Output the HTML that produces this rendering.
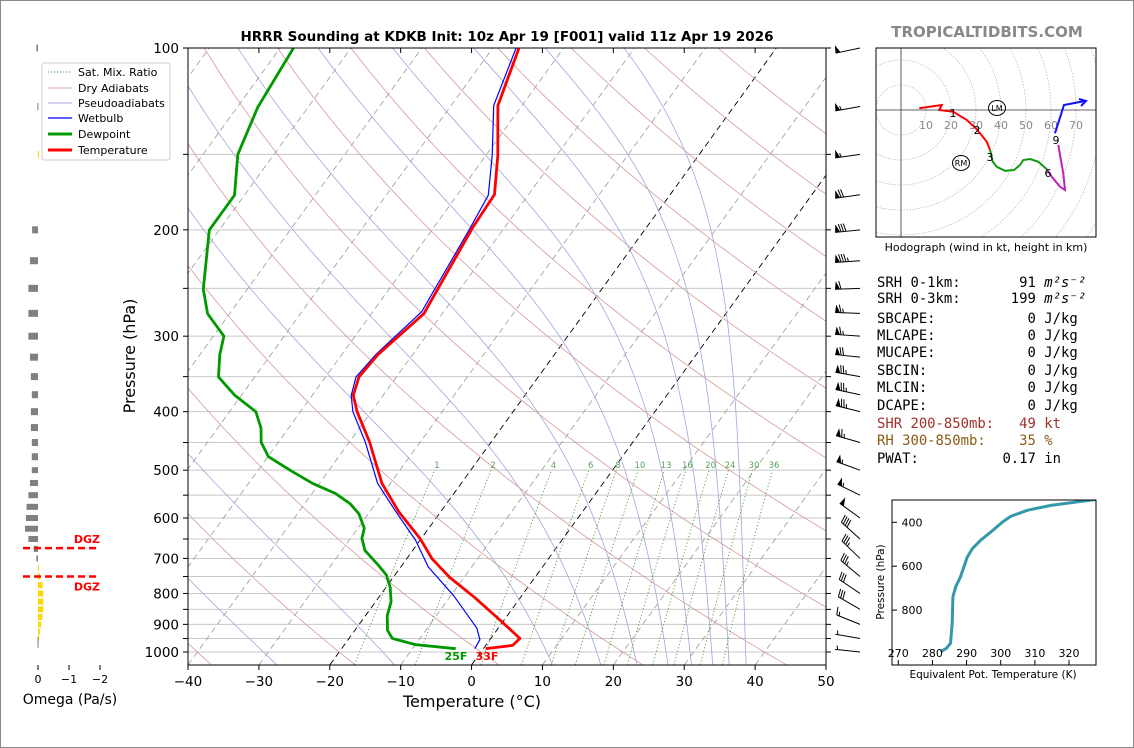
<!DOCTYPE html>
<html><head><meta charset="utf-8">
<style>
html,body{margin:0;padding:0;background:#fff;}
body{width:1134px;height:748px;overflow:hidden;}
svg{display:block;font-family:"DejaVu Sans","Liberation Sans",sans-serif;}
.mono{font-family:"DejaVu Sans Mono","Liberation Mono",monospace;font-size:13.9px;white-space:pre;}
</style></head>
<body>
<svg id="root" width="1134" height="748" viewBox="0 0 1134 748" xmlns="http://www.w3.org/2000/svg">
<rect x="0.5" y="0.5" width="1133" height="747" fill="#fff" stroke="#888"/>
<defs><clipPath id="plotclip"><rect x="188" y="48" width="638" height="617"/></clipPath>
<clipPath id="hodoclip"><rect x="876" y="48" width="220" height="189"/></clipPath>
<clipPath id="thetaclip"><rect x="892" y="500" width="204" height="165"/></clipPath></defs>
<g id="bg" clip-path="url(#plotclip)"></g>
<g id="series" clip-path="url(#plotclip)"></g>
<rect x="188" y="48" width="638" height="617" fill="none" stroke="#000" stroke-width="1"/>
<g id="axes"></g>
<text x="507" y="41" text-anchor="middle" font-size="13.5" font-weight="bold">HRRR Sounding at KDKB Init: 10z Apr 19 [F001] valid 11z Apr 19 2026</text>
<text x="987" y="37" text-anchor="middle" font-size="15" font-weight="bold" fill="#888">TROPICALTIDBITS.COM</text>
<text x="472" y="707" text-anchor="middle" font-size="16">Temperature (°C)</text>
<text transform="translate(135,356) rotate(-90)" text-anchor="middle" font-size="16">Pressure (hPa)</text>
<text x="456" y="660" text-anchor="middle" font-size="11" font-weight="bold" fill="#009900">25F</text>
<text x="487" y="660" text-anchor="middle" font-size="11" font-weight="bold" fill="#ff0000">33F</text>
<g id="barbs"></g>
<g id="omega"></g>
<g id="legend">
<rect x="42" y="63" width="128" height="97" fill="#fff" fill-opacity="0.9" stroke="#ccc" rx="2"/>
<line x1="48" y1="72" x2="72" y2="72" stroke="#4a9a4a" stroke-dasharray="1.2,1.8"/>
<text x="78" y="76" font-size="11">Sat. Mix. Ratio</text>
<line x1="48" y1="88" x2="72" y2="88" stroke="#d9a8a8"/>
<text x="78" y="92" font-size="11">Dry Adiabats</text>
<line x1="48" y1="103" x2="72" y2="103" stroke="#a8a8e0"/>
<text x="78" y="107" font-size="11">Pseudoadiabats</text>
<line x1="48" y1="118" x2="72" y2="118" stroke="#0000ff" stroke-width="1.2"/>
<text x="78" y="122" font-size="11">Wetbulb</text>
<line x1="48" y1="134" x2="72" y2="134" stroke="#009900" stroke-width="3"/>
<text x="78" y="138" font-size="11">Dewpoint</text>
<line x1="48" y1="150" x2="72" y2="150" stroke="#ff0000" stroke-width="3"/>
<text x="78" y="154" font-size="11">Temperature</text>
</g>
<g id="hodo"></g>
<text x="986" y="251" text-anchor="middle" font-size="11">Hodograph (wind in kt, height in km)</text>
<g id="params">
<text class="mono" x="877" y="287">SRH 0-1km:       91 <tspan font-style="italic">m²s⁻²</tspan></text>
<text class="mono" x="877" y="303">SRH 0-3km:      199 <tspan font-style="italic">m²s⁻²</tspan></text>
<text class="mono" x="877" y="323">SBCAPE:           0 J/kg</text>
<text class="mono" x="877" y="340">MLCAPE:           0 J/kg</text>
<text class="mono" x="877" y="357">MUCAPE:           0 J/kg</text>
<text class="mono" x="877" y="375">SBCIN:            0 J/kg</text>
<text class="mono" x="877" y="392">MLCIN:            0 J/kg</text>
<text class="mono" x="877" y="410">DCAPE:            0 J/kg</text>
<text class="mono" x="877" y="428" fill="#a0302a">SHR 200-850mb:   49 kt</text>
<text class="mono" x="877" y="445" fill="#8b5a14">RH 300-850mb:    35 %</text>
<text class="mono" x="877" y="463">PWAT:          0.17 in</text>
</g>
<g id="theta"></g>
</svg>
<script>
// ---- Skew-T data (pressure hPa, temperature degC) ----
const tempP = [987.5,975.2,949.5,885.1,812.9,751.6,701,648.5,586.1,525.6,449.7,400.1,376,350.5,321.8,275.4,198.6,174.8,150.7,124.5,100];
const tempT = [0.3,3.8,4.1,-0.6,-6.4,-12.1,-16.4,-20.2,-25.9,-31.2,-37.1,-42.0,-44.2,-45.3,-44.9,-42.6,-44.5,-44.8,-48.3,-53.4,-56.3];
const dewP = [987.5,972.2,949.5,920.5,871.7,825.7,781.8,745.6,717.5,679.5,648.5,623.8,590.8,568.1,546.4,525.6,501.7,475.0,449.7,425.8,400.1,376,350.5,321.8,300,275.4,250.8,200.2,175.3,150,125.4,100];
const dewT = [-3.9,-10.0,-13.9,-15.4,-16.9,-17.8,-19.4,-21.2,-23.4,-26.7,-28.4,-29.1,-31.3,-33.6,-36.7,-41.0,-45.2,-49.9,-52.4,-53.9,-56.3,-60.9,-65.1,-67.2,-68.5,-73.1,-76.2,-81.4,-81.4,-85.1,-87.1,-88.1];
const wbP = [987.5,954.3,913.2,806.7,723.3,653.5,581.6,525.6,449.7,400.1,376,350.5,321.8,273.3,198.6,175.3,150.7,124.5,100];
const wbT = [-1.2,-1.4,-3.0,-9.6,-16.1,-20.6,-26.7,-31.8,-37.7,-42.6,-44.5,-45.7,-45.2,-43.1,-44.8,-45.6,-49.1,-54.0,-56.7];
// Wind barbs
const barbP = [100,125,150,175,200,225,250,275,300,325,350,375,400,450,500,550,600,650,700,750,800,850,900,950,1000];
const barbSpd = [50,55,55,70,80,85,60,65,65,70,75,75,75,65,55,55,50,40,35,35,30,30,15,5,5];
const barbDir = [258,260,262,262,264,266,268,272,274,276,280,282,284,286,290,296,306,312,314,310,304,300,292,280,276];
// Omega (Pa/s)
const omegaP = [100,125,150,200,225,250,275,300,325,350,375,400,425,450,475,500,525,550,575,600,625,650,675,700,725,750,775,800,825,850,875,900,925,950];
const omegaV = [0.05,0.02,-0.02,0.19,0.26,0.31,0.31,0.31,0.26,0.23,0.2,0.23,0.23,0.2,0.2,0.2,0.26,0.31,0.37,0.39,0.42,0.31,0.14,0.05,-0.02,-0.07,-0.15,-0.17,-0.17,-0.17,-0.14,-0.1,-0.06,-0.01];
const dgzP = [673,750];
// Hodograph (u, v kt)
const hodoRedU=[7.3,16.3,15.3,20.9,26.3,30.3,34.3,35.6], hodoRedV=[0.7,2,0,-0.7,-4,-7.7,-12.7,-16];
const hodoGrnU=[35.6,36.7,38.3,41.6,45.2,47.6,48.9,51.6,54.9,58.3], hodoGrnV=[-16,-20.7,-22.7,-24.3,-24,-22,-20,-19.6,-20.7,-23.7];
const hodoMagU=[58.3,60.3,63.6,65.6,64.9,63.6,62.9], hodoMagV=[-23.7,-26.7,-30.7,-32,-25.3,-18,-14];
const hodoBluU=[61.6,65.2,73.6], hodoBluV=[-9.3,2,3.6];
const hodoLabels=["1","2","3","6","9"], hodoLabU=[20.8,30.4,35.6,58.8,62.0], hodoLabV=[-1.2,-8,-18.8,-25.2,-12];
// Theta-e profile
const thetaK=[282.4,284.1,285.3,285.8,286.0,286.8,288.2,290.2,291.7,294.1,297.1,300.5,302.9,307.9,314.7,323.5,328.2];
const thetaP=[989.5,974,951,860,740,694,649,558,520,482,444,399,373,345,323,305,295];
// Axes ticks
const xTicks=[-40,-30,-20,-10,0,10,20,30,40,50];
const pGrid=[100,150,200,250,300,350,400,450,500,550,600,650,700,750,800,850,900,950,1000];
const pLabels=[100,200,300,400,500,600,700,800,900,1000];
const mixW=[1,2,4,6,8,10,13,16,20,24,30,36];
const dryThetaC=[-80,-60,-40,-20,0,20,40,60,80,100,120,140,160,180,200];
const moistT1050=[-27.5,-10.9,11.4,18.2,23.3,27.7,31.0,34.0,36.3,38.7];

const NS="http://www.w3.org/2000/svg";
function mk(tag,attrs,parent){const e=document.createElementNS(NS,tag);for(const k in attrs)e.setAttribute(k,attrs[k]);parent.appendChild(e);return e;}
function Y(p){return 48+(Math.log10(p)-2)*604;}
function X(T,p){return 188+(T+40)*7.089+(665-Y(p))*0.7237;}
function pathFrom(ps,ts){return ps.map((p,i)=>(i?'L':'M')+X(ts[i],p).toFixed(1)+','+Y(p).toFixed(1)).join('');}
const bg=document.getElementById('bg'), ser=document.getElementById('series'), ax=document.getElementById('axes');

pGrid.forEach(p=>{const l=mk('line',{x1:188,x2:826,y1:Y(p),y2:Y(p),stroke:'#c8c8c8','stroke-width':1},bg);

});
for(let t=-140;t<=50;t+=10){const hi=(t===0||t===-20);
const l=mk('line',{x1:X(t,1050),y1:Y(1050),x2:X(t,100),y2:Y(100),stroke:hi?'#000':'#999','stroke-width':hi?0.9:0.8,'stroke-dasharray':'6,4'},bg);

}
dryThetaC.forEach(th=>{const ps=[],ts=[];for(let p=1050;p>=100;p-=10){ps.push(p);ts.push((th+273.15)*Math.pow(p/1000,0.286)-273.15);}
const e=mk('path',{d:pathFrom(ps,ts),fill:'none',stroke:'#d49a9a','stroke-width':0.8},bg);

});
function es(tc){return 6.112*Math.exp(17.67*tc/(tc+243.5));}
function dTdp(T,p){const tc=T-273.15,e=es(tc),rs=0.622*e/(p-e);return (287*T+2.5e6*rs)/(1005+2.5e6*2.5e6*rs*0.622/(287*T*T))/p;}
moistT1050.forEach(t0=>{let T=t0+273.15;const ps=[1050],ts=[t0];for(let p=1050;p>100;p-=2){const k1=dTdp(T,p),k2=dTdp(T-k1,p-2);T-=2*(k1+k2)/2;ps.push(p-2);ts.push(T-273.15);}
const e=mk('path',{d:pathFrom(ps,ts),fill:'none',stroke:'#a4a4dc','stroke-width':0.8},bg);

});
mixW.forEach(w=>{const ps=[],ts=[];for(let p=1050;p>=500;p-=10){const e=w*p/(622+w),l=Math.log(e/6.112);ps.push(p);ts.push(243.5*l/(17.67-l));}
const e=mk('path',{d:pathFrom(ps,ts),fill:'none',stroke:'#4a9a4a','stroke-width':0.9,'stroke-dasharray':'1.2,2.2'},bg);


const pl=490, ee=w*pl/(622+w), ll=Math.log(ee/6.112), tl=243.5*ll/(17.67-ll);
const tx=mk('text',{x:X(tl,pl),y:Y(pl)+3,'text-anchor':'middle','font-size':8.5,fill:'#5aa05a'},bg);tx.textContent=w;

});
[[wbP,wbT,'#0000ff',1.2,'wetbulb-line'],[dewP,dewT,'#009900',2.8,'dewpoint-line'],[tempP,tempT,'#ff0000',2.8,'temperature-line']].forEach(s=>{
const e=mk('path',{d:pathFrom(s[0],s[1]),fill:'none',stroke:s[2],'stroke-width':s[3],'stroke-linejoin':'round'},ser);

});
xTicks.forEach(t=>{const x=188+(t+40)*7.089;
mk('line',{x1:x,x2:x,y1:665,y2:670,stroke:'#000'},ax);mk('line',{x1:x,x2:x,y1:48,y2:53,stroke:'#000'},ax);
const tx=mk('text',{x:x,y:686,'text-anchor':'middle','font-size':13.5},ax);tx.textContent=(t<0?'\u2212'+(-t):t);

});
pGrid.forEach(p=>{const y=Y(p);mk('line',{x1:183,x2:188,y1:y,y2:y,stroke:'#000'},ax);mk('line',{x1:826,x2:831,y1:y,y2:y,stroke:'#000'},ax);});
pLabels.forEach(p=>{const tx=mk('text',{x:179,y:Y(p)+5,'text-anchor':'end','font-size':13.5},ax);tx.textContent=p;

});
const bb=document.getElementById('barbs');
barbP.forEach((p,i)=>{const ox=860,oy=Y(p),L=25,d=barbDir[i]*Math.PI/180;const ux=Math.sin(d),uy=-Math.cos(d);const px=-uy,py=ux;
const g=mk('g',{},bb);


mk('line',{x1:ox,y1:oy,x2:ox+ux*L,y2:oy+uy*L,stroke:'#000','stroke-width':1},g);
let s=barbSpd[i],pos=L;
while(s>=50){const a=[ox+ux*pos,oy+uy*pos],b=[ox+ux*(pos-5),oy+uy*(pos-5)],c=[ox+ux*(pos-1)+px*8,oy+uy*(pos-1)+py*8];
mk('polygon',{points:a.join(',')+' '+b.join(',')+' '+c.join(','),fill:'#000'},g);pos-=6;s-=50;}
while(s>=10){mk('line',{x1:ox+ux*pos,y1:oy+uy*pos,x2:ox+ux*(pos+2)+px*8,y2:oy+uy*(pos+2)+py*8,stroke:'#000','stroke-width':1},g);pos-=2.5;s-=10;}
if(s>=5){if(pos===L)pos-=2.5;mk('line',{x1:ox+ux*pos,y1:oy+uy*pos,x2:ox+ux*(pos+1)+px*4,y2:oy+uy*(pos+1)+py*4,stroke:'#000','stroke-width':1},g);}
});
const om=document.getElementById('omega');
omegaP.forEach((p,i)=>{const v=omegaV[i],x0=38,x1=38-v*31,h=p<500?7:6;
const r=mk('rect',{x:Math.min(x0,x1),y:Y(p)-h/2,width:Math.max(Math.abs(x1-x0),1),height:h,fill:v>0?'#808080':'#ffd700'},om);

});
mk('line',{x1:38,x2:38,y1:637,y2:648,stroke:'#808080'},om);
[0,-1,-2].forEach(v=>{const x=38-v*31;mk('line',{x1:x,x2:x,y1:665,y2:670,stroke:'#000'},om);
const tx=mk('text',{x:x,y:683,'text-anchor':'middle','font-size':11},om);tx.textContent=v===0?'0':'\u2212'+(-v);

});
const ol=mk('text',{x:70,y:704,'text-anchor':'middle','font-size':14},om);ol.textContent='Omega (Pa/s)';


dgzP.forEach((p,i)=>{const y=Y(p);const l=mk('line',{x1:23,x2:99,y1:y,y2:y,stroke:'#ff0000','stroke-width':2.5,'stroke-dasharray':'7,4'},om);


const t=mk('text',{x:100,y:i===0?y-5:y+14,'text-anchor':'end','font-size':11,'font-weight':'bold',fill:'#ff0000'},om);t.textContent='DGZ';

});
const hd=document.getElementById('hodo');
const hx=u=>901+u*2.5, hy=v=>110-v*2.5;
const hg=mk('g',{'clip-path':'url(#hodoclip)'},hd);
for(let r=10;r<=100;r+=10){const c=mk('circle',{cx:901,cy:110,r:r*2.5,fill:'none',stroke:'#bbb','stroke-dasharray':'1.5,1.5','stroke-width':0.8},hg);

}
mk('line',{x1:876,x2:1096,y1:110,y2:110,stroke:'#333','stroke-width':0.8},hg);
mk('line',{x1:901,x2:901,y1:48,y2:237,stroke:'#333','stroke-width':0.8},hg);
for(let k=10;k<=70;k+=10){const t=mk('text',{x:hx(k),y:129,'text-anchor':'middle','font-size':11,fill:'#888'},hg);t.textContent=k;

}
[[hodoRedU,hodoRedV,'#ff0000','hodo-0-3km'],[hodoGrnU,hodoGrnV,'#119911','hodo-3-6km'],[hodoMagU,hodoMagV,'#bb22bb','hodo-6-9km'],[hodoBluU,hodoBluV,'#1010ff','hodo-9-12km']].forEach(s=>{
const d=s[0].map((u,i)=>(i?'L':'M')+hx(u).toFixed(1)+','+hy(s[1][i]).toFixed(1)).join('');
const e=mk('path',{d:d,fill:'none',stroke:s[2],'stroke-width':2},hg);

});
mk('path',{d:'M1079,99 L1086,101 L1081,106',fill:'none',stroke:'#1010ff','stroke-width':2},hg);
hodoLabels.forEach((t,i)=>{const e=mk('text',{x:hx(hodoLabU[i]),y:hy(hodoLabV[i])+4,'text-anchor':'middle','font-size':11,fill:'#000'},hg);e.textContent=t;

});
[['LM',997,108],['RM',961,163]].forEach(m=>{const g=mk('g',{},hg);


mk('ellipse',{cx:m[1],cy:m[2],rx:8.5,ry:7.5,fill:'none',stroke:'#000','stroke-width':1},g);
const t=mk('text',{x:m[1],y:m[2]+3,'text-anchor':'middle','font-size':8},g);t.textContent=m[0];});
mk('rect',{x:876,y:48,width:220,height:189,fill:'none',stroke:'#000'},hd);
const th=document.getElementById('theta');
const tX=k=>898.3+(k-270)*3.414, tY=p=>522.3+(p-400)*0.2195;
const tg=mk('g',{'clip-path':'url(#thetaclip)'},th);
const tp=mk('path',{d:thetaK.map((k,i)=>(i?'L':'M')+tX(k).toFixed(1)+','+tY(thetaP[i]).toFixed(1)).join(''),fill:'none',stroke:'#3399aa','stroke-width':3,'stroke-linejoin':'round'},tg);


mk('rect',{x:892,y:500,width:204,height:165,fill:'none',stroke:'#000'},th);
[270,280,290,300,310,320].forEach(k=>{mk('line',{x1:tX(k),x2:tX(k),y1:660,y2:665,stroke:'#000'},th);
const t=mk('text',{x:tX(k),y:657,'text-anchor':'middle','font-size':11},th);t.textContent=k;

});
[400,600,800].forEach(p=>{mk('line',{x1:892,x2:897,y1:tY(p),y2:tY(p),stroke:'#000'},th);
const t=mk('text',{x:912,y:tY(p)+4,'text-anchor':'middle','font-size':11},th);t.textContent=p;

});
const tl1=mk('text',{transform:'translate(884,582) rotate(-90)','text-anchor':'middle','font-size':10.5},th);tl1.textContent='Pressure (hPa)';


const tl2=mk('text',{x:993,y:678,'text-anchor':'middle','font-size':10.5},th);tl2.textContent='Equivalent Pot. Temperature (K)';


</script>
</body></html>
